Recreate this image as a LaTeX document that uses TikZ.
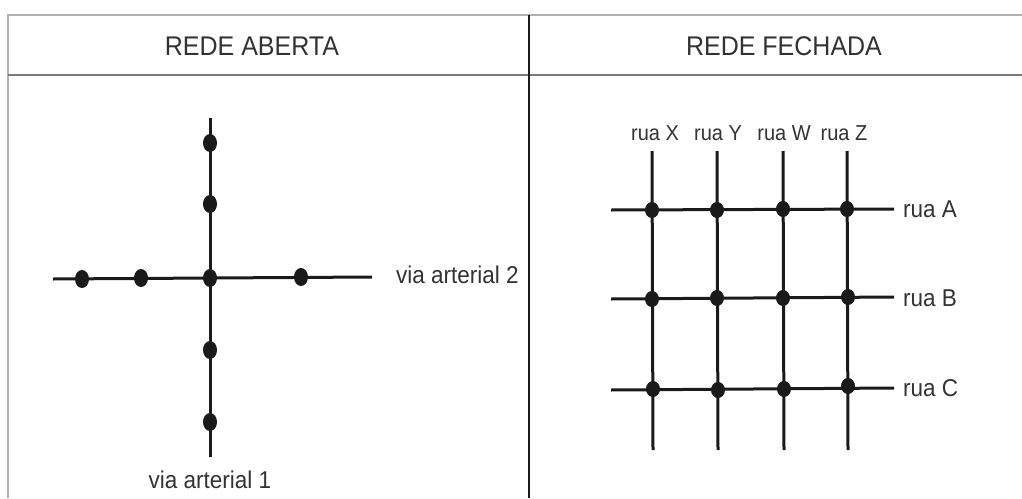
\documentclass[tikz,border=0pt]{standalone}
\usepackage{fontspec}
\setmainfont{Liberation Sans}
\usetikzlibrary{shapes.geometric}
\definecolor{ink}{HTML}{1A1A1A}
\definecolor{txt}{HTML}{333333}
\definecolor{frameL}{HTML}{B0B0B0}
\definecolor{frameD}{HTML}{7A7A7A}
\begin{document}
\begin{tikzpicture}[x=1pt,y=-1pt,
  road/.style={ink, line width=3pt},
  jdot/.style={ellipse, fill=ink, inner sep=0pt, minimum width=14pt, minimum height=18pt},
  gdot/.style={ellipse, fill=ink, inner sep=0pt, minimum width=14pt, minimum height=16pt},
  head/.style={txt, inner sep=0pt, yscale=1.08, font=\fontsize{25}{30}\selectfont},
  lab/.style={txt, inner sep=0pt, yscale=1.08, font=\fontsize{22.5}{27}\selectfont},
  slab/.style={txt, inner sep=0pt, yscale=1.08, font=\fontsize{20}{24}\selectfont}]
\useasboundingbox (0,0) rectangle (1022,498);
\fill[white] (0,0) rectangle (1022,498);
% table frame
\draw[frameL, line width=2pt] (8,498) -- (8,15) -- (1022,15);
\draw[frameD, line width=2pt] (8,75) -- (1022,75);
\draw[ink, line width=1.5pt] (529,15) -- (529,498);
% headers
\node[head] (hA) at (252,46) {REDE ABERTA};
\node[head] (hF) at (784,46) {REDE FECHADA};
% ---- open network ----
\coordinate (vT) at (210,118);
\coordinate (vB) at (210,457);
\coordinate (hL) at (53,279);
\coordinate (hR) at (372,277);
\draw[road] (vT) -- (vB);
\draw[road] (hL) -- (hR);
\node[jdot] (v1) at (210,143) {};
\node[jdot] (v2) at (210,204) {};
\node[jdot] (c0) at (210,278) {};
\node[jdot] (v3) at (210,350) {};
\node[jdot] (v4) at (210,422) {};
\node[jdot] (h1) at (82,279) {};
\node[jdot] (h2) at (141,278) {};
\node[jdot] (h3) at (301,277) {};
\node[lab, anchor=west] (va2) at (396,275) {via arterial 2};
\node[lab] (va1) at (210,480) {via arterial 1};
% ---- closed network ----
\coordinate (xT) at (652,151); \coordinate (xB) at (653,450);
\coordinate (yT) at (717,151); \coordinate (yB) at (718,450);
\coordinate (wT) at (783,151); \coordinate (wB) at (784,450);
\coordinate (zT) at (847,151); \coordinate (zB) at (848,450);
\coordinate (aL) at (611,210); \coordinate (aR) at (894,209);
\coordinate (bL) at (611,299); \coordinate (bR) at (894,297);
\coordinate (cL) at (611,390); \coordinate (cR) at (894,388);
\foreach \s in {x,y,w,z} \draw[road] (\s T) -- (\s B);
\foreach \s in {a,b,c} \draw[road] (\s L) -- (\s R);
\node[gdot] (xa) at (652,210) {};
\node[gdot] (ya) at (717,210) {};
\node[gdot] (wa) at (783,209) {};
\node[gdot] (za) at (847,209) {};
\node[gdot] (xb) at (652,299) {};
\node[gdot] (yb) at (717,298) {};
\node[gdot] (wb) at (783,298) {};
\node[gdot] (zb) at (848,297) {};
\node[gdot] (xc) at (653,389) {};
\node[gdot] (yc) at (718,390) {};
\node[gdot] (wc) at (784,389) {};
\node[gdot] (zc) at (848,386) {};
\node[slab] (lX) at (655,133) {rua X};
\node[slab] (lY) at (718,133) {rua Y};
\node[slab] (lW) at (784,133) {rua W};
\node[slab] (lZ) at (844,133) {rua Z};
\node[lab, anchor=west] (lA) at (903,209) {rua A};
\node[lab, anchor=west] (lB) at (903,298) {rua B};
\node[lab, anchor=west] (lC) at (903,388) {rua C};
\end{tikzpicture}
\end{document}
